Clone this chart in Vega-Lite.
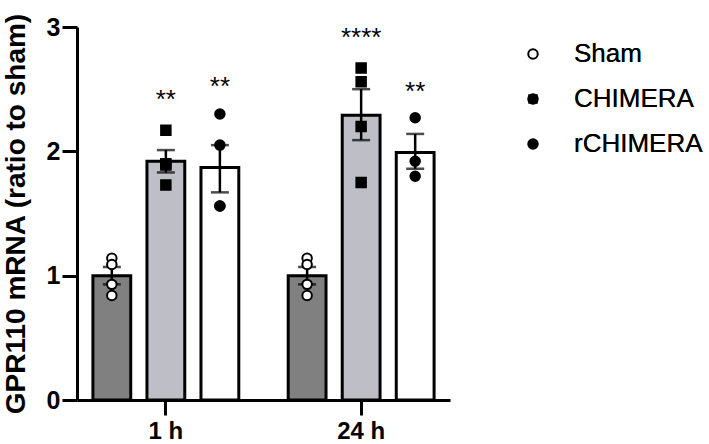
{
  "$schema": "https://vega.github.io/schema/vega-lite/v6.json",
  "autosize": {"type": "none"},
  "width": 373,
  "height": 373,
  "padding": {"left": 77, "top": 27, "right": 259, "bottom": 44},
  "background": "white",
  "config": {
    "view": {"stroke": null},
    "font": "Liberation Sans"
  },
  "datasets": {
    "points": [
      {"time": "1 h", "cond": "Sham", "value": 1.14},
      {"time": "1 h", "cond": "Sham", "value": 1.09},
      {"time": "1 h", "cond": "Sham", "value": 0.93},
      {"time": "1 h", "cond": "Sham", "value": 0.84},
      {"time": "1 h", "cond": "CHIMERA", "value": 2.17},
      {"time": "1 h", "cond": "CHIMERA", "value": 1.89},
      {"time": "1 h", "cond": "CHIMERA", "value": 1.90},
      {"time": "1 h", "cond": "CHIMERA", "value": 1.73},
      {"time": "1 h", "cond": "rCHIMERA", "value": 2.30},
      {"time": "1 h", "cond": "rCHIMERA", "value": 2.05},
      {"time": "1 h", "cond": "rCHIMERA", "value": 1.56},
      {"time": "1 h", "cond": "rCHIMERA", "value": 1.56},
      {"time": "24 h", "cond": "Sham", "value": 1.14},
      {"time": "24 h", "cond": "Sham", "value": 1.09},
      {"time": "24 h", "cond": "Sham", "value": 0.93},
      {"time": "24 h", "cond": "Sham", "value": 0.84},
      {"time": "24 h", "cond": "CHIMERA", "value": 2.67},
      {"time": "24 h", "cond": "CHIMERA", "value": 2.56},
      {"time": "24 h", "cond": "CHIMERA", "value": 2.20},
      {"time": "24 h", "cond": "CHIMERA", "value": 1.75},
      {"time": "24 h", "cond": "rCHIMERA", "value": 2.27},
      {"time": "24 h", "cond": "rCHIMERA", "value": 1.92},
      {"time": "24 h", "cond": "rCHIMERA", "value": 1.80}
    ],
    "summary": [
      {"time": "1 h", "cond": "Sham", "mean": 1.0, "lo": 0.93, "hi": 1.07, "sig": "", "sigy": 0},
      {"time": "1 h", "cond": "CHIMERA", "mean": 1.92, "lo": 1.83, "hi": 2.01, "sig": "**", "sigy": 2.35},
      {"time": "1 h", "cond": "rCHIMERA", "mean": 1.87, "lo": 1.67, "hi": 2.05, "sig": "**", "sigy": 2.45},
      {"time": "24 h", "cond": "Sham", "mean": 1.0, "lo": 0.93, "hi": 1.07, "sig": "", "sigy": 0},
      {"time": "24 h", "cond": "CHIMERA", "mean": 2.29, "lo": 2.09, "hi": 2.50, "sig": "****", "sigy": 2.85},
      {"time": "24 h", "cond": "rCHIMERA", "mean": 1.99, "lo": 1.86, "hi": 2.14, "sig": "**", "sigy": 2.41}
    ]
  },
  "encoding": {
    "x": {
      "field": "time", "type": "nominal", "sort": ["1 h", "24 h"],
      "scale": {"paddingInner": 0.17, "paddingOuter": 0.04},
      "axis": {
        "title": null, "labelAngle": 0, "labelFont": "Liberation Sans", "labelFontWeight": "bold",
        "labelFontSize": 24, "labelColor": "black", "labelPadding": 4,
        "domainColor": "black", "domainWidth": 3, "tickColor": "black", "tickWidth": 3, "tickSize": 15
      }
    },
    "xOffset": {
      "field": "cond", "type": "nominal", "sort": ["Sham", "CHIMERA", "rCHIMERA"],
      "scale": {"paddingInner": 0.3, "paddingOuter": 0.15}
    }
  },
  "layer": [
    {
      "data": {"name": "summary"},
      "mark": {"type": "bar", "stroke": "black", "strokeWidth": 3},
      "encoding": {
        "y": {
          "field": "mean", "type": "quantitative",
          "scale": {"domain": [0, 3]},
          "axis": {
            "title": "GPR110 mRNA (ratio to sham)", "titleFont": "Liberation Sans", "titleFontWeight": "bold",
            "titleFontSize": 28, "titleColor": "black", "titlePadding": 16,
            "values": [0, 1, 2, 3], "format": "d", "grid": false,
            "labelFont": "Liberation Sans", "labelFontWeight": "bold", "labelFontSize": 25, "labelColor": "black",
            "labelPadding": 2,
            "domainColor": "black", "domainWidth": 3, "tickColor": "black", "tickWidth": 3, "tickSize": 15
          }
        },
        "fill": {
          "field": "cond", "type": "nominal",
          "scale": {"domain": ["Sham", "CHIMERA", "rCHIMERA"], "range": ["#808080", "#bebec6", "#ffffff"]},
          "legend": null
        }
      }
    },
    {
      "data": {"name": "summary"},
      "mark": {"type": "rule", "color": "black", "strokeWidth": 2.5},
      "encoding": {
        "y": {"field": "lo", "type": "quantitative"},
        "y2": {"field": "hi"}
      }
    },
    {
      "data": {"name": "summary"},
      "mark": {"type": "tick", "color": "black", "thickness": 2.5, "size": 18},
      "encoding": {"y": {"field": "lo", "type": "quantitative"}}
    },
    {
      "data": {"name": "summary"},
      "mark": {"type": "tick", "color": "black", "thickness": 2.5, "size": 18},
      "encoding": {"y": {"field": "hi", "type": "quantitative"}}
    },
    {
      "data": {"name": "points"},
      "mark": {"type": "point", "filled": false, "stroke": "black", "strokeWidth": 2, "opacity": 1},
      "encoding": {
        "y": {"field": "value", "type": "quantitative"},
        "shape": {
          "field": "cond", "type": "nominal",
          "scale": {"domain": ["Sham", "CHIMERA", "rCHIMERA"], "range": ["circle", "square", "circle"]},
          "legend": {
            "title": null, "orient": "none", "legendX": 443, "legendY": 14,
            "labelFont": "Liberation Sans", "labelFontSize": 26, "labelColor": "black",
            "labelOffset": 28, "rowPadding": 19, "symbolSize": 90, "symbolStrokeWidth": 2,
            "symbolStrokeColor": "black", "padding": 0
          }
        },
        "fill": {
          "field": "cond", "type": "nominal",
          "scale": {"domain": ["Sham", "CHIMERA", "rCHIMERA"], "range": ["#ffffff", "#000000", "#000000"]},
          "legend": {
            "title": null, "orient": "none", "legendX": 443, "legendY": 14,
            "labelFont": "Liberation Sans", "labelFontSize": 26, "labelColor": "black",
            "labelOffset": 28, "rowPadding": 19, "symbolSize": 90, "symbolStrokeWidth": 2,
            "symbolStrokeColor": "black", "padding": 0
          }
        },
        "size": {"value": 90}
      }
    },
    {
      "data": {"name": "summary"},
      "mark": {"type": "text", "font": "Liberation Sans", "fontSize": 26, "color": "black", "baseline": "alphabetic", "align": "center"},
      "encoding": {
        "y": {"field": "sigy", "type": "quantitative"},
        "text": {"field": "sig"}
      }
    }
  ],
  "resolve": {"scale": {"fill": "independent"}}
}
